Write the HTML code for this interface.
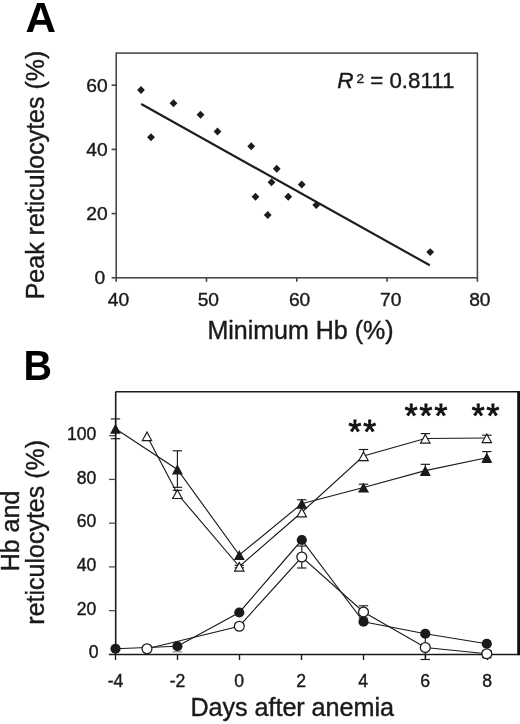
<!DOCTYPE html>
<html><head><meta charset="utf-8"><title>Figure</title>
<style>
html,body{margin:0;padding:0;background:#fff;}
body{width:520px;height:724px;overflow:hidden;}
svg{display:block;will-change:transform;filter:grayscale(1);}
text{font-family:"Liberation Sans",sans-serif;fill:#1a1a1a;stroke:#1a1a1a;stroke-width:0.4px;}
.tk{font-size:19.2px;}
.tkb{font-size:17.6px;}
.al{font-size:25px;}
.al2{font-size:25.2px;}
.pl{font-size:42.2px;font-weight:bold;fill:#000;stroke:none;}
.r2{font-size:22.6px;}
.st{font-size:33px;fill:#111;stroke:#111;stroke-width:0.9px;letter-spacing:1.95px;}
</style></head>
<body>
<svg width="520" height="724" viewBox="0 0 520 724">
<rect x="0" y="0" width="520" height="724" fill="#fff"/>
<rect x="116.2" y="53.1" width="361.20" height="224.70" fill="none" stroke="#454545" stroke-width="1.55"/>
<line x1="111.60" y1="277.80" x2="116.20" y2="277.80" stroke="#454545" stroke-width="1.6"/>
<text x="105.2" y="284.40" text-anchor="end" class="tk">0</text>
<line x1="111.60" y1="213.60" x2="116.20" y2="213.60" stroke="#454545" stroke-width="1.6"/>
<text x="107.6" y="220.20" text-anchor="end" class="tk">20</text>
<line x1="111.60" y1="149.40" x2="116.20" y2="149.40" stroke="#454545" stroke-width="1.6"/>
<text x="107.6" y="156.00" text-anchor="end" class="tk">40</text>
<line x1="111.60" y1="85.20" x2="116.20" y2="85.20" stroke="#454545" stroke-width="1.6"/>
<text x="107.6" y="91.80" text-anchor="end" class="tk">60</text>
<line x1="116.20" y1="277.80" x2="116.20" y2="281.80" stroke="#454545" stroke-width="1.6"/>
<text x="118.40" y="305.6" text-anchor="middle" class="tk">40</text>
<line x1="206.50" y1="277.80" x2="206.50" y2="281.80" stroke="#454545" stroke-width="1.6"/>
<text x="208.30" y="305.6" text-anchor="middle" class="tk">50</text>
<line x1="296.80" y1="277.80" x2="296.80" y2="281.80" stroke="#454545" stroke-width="1.6"/>
<text x="299.60" y="305.6" text-anchor="middle" class="tk">60</text>
<line x1="387.10" y1="277.80" x2="387.10" y2="281.80" stroke="#454545" stroke-width="1.6"/>
<text x="390.70" y="305.6" text-anchor="middle" class="tk">70</text>
<line x1="477.40" y1="277.80" x2="477.40" y2="281.80" stroke="#454545" stroke-width="1.6"/>
<text x="479.80" y="305.6" text-anchor="middle" class="tk">80</text>
<path d="M137.10 90.00L141.00 86.10L144.90 90.00L141.00 93.90Z" fill="#1c1c1c"/>
<path d="M169.60 103.25L173.50 99.35L177.40 103.25L173.50 107.15Z" fill="#1c1c1c"/>
<path d="M196.60 114.75L200.50 110.85L204.40 114.75L200.50 118.65Z" fill="#1c1c1c"/>
<path d="M213.60 131.50L217.50 127.60L221.40 131.50L217.50 135.40Z" fill="#1c1c1c"/>
<path d="M147.10 137.25L151.00 133.35L154.90 137.25L151.00 141.15Z" fill="#1c1c1c"/>
<path d="M247.35 146.25L251.25 142.35L255.15 146.25L251.25 150.15Z" fill="#1c1c1c"/>
<path d="M272.85 168.75L276.75 164.85L280.65 168.75L276.75 172.65Z" fill="#1c1c1c"/>
<path d="M267.60 182.25L271.50 178.35L275.40 182.25L271.50 186.15Z" fill="#1c1c1c"/>
<path d="M297.85 184.50L301.75 180.60L305.65 184.50L301.75 188.40Z" fill="#1c1c1c"/>
<path d="M251.60 196.75L255.50 192.85L259.40 196.75L255.50 200.65Z" fill="#1c1c1c"/>
<path d="M284.35 196.75L288.25 192.85L292.15 196.75L288.25 200.65Z" fill="#1c1c1c"/>
<path d="M312.35 205.00L316.25 201.10L320.15 205.00L316.25 208.90Z" fill="#1c1c1c"/>
<path d="M263.85 215.00L267.75 211.10L271.65 215.00L267.75 218.90Z" fill="#1c1c1c"/>
<path d="M426.30 252.10L430.20 248.20L434.10 252.10L430.20 256.00Z" fill="#1c1c1c"/>
<line x1="141.25" y1="104.0" x2="429.8" y2="265.3" stroke="#1c1c1c" stroke-width="2.15"/>
<text x="25.4" y="31.55" class="pl">A</text>
<text transform="translate(44.1,175) rotate(-90)" text-anchor="middle" class="al">Peak reticulocytes (%)</text>
<text x="300.5" y="338.5" text-anchor="middle" class="al">Minimum Hb (%)</text>
<text x="337.2" y="88.3" class="r2" font-style="italic">R</text>
<text x="356.6" y="82.6" class="r2" style="font-size:13.6px">2</text>
<text x="370.2" y="88.4" class="r2" style="font-size:22.3px">= 0.8111</text>
<line x1="115.7" y1="391.8" x2="115.7" y2="654.4" stroke="#1a1a1a" stroke-width="1.6"/>
<line x1="115.5" y1="391.8" x2="520" y2="391.8" stroke="#1a1a1a" stroke-width="1.5"/>
<line x1="108.8" y1="654.4" x2="520" y2="654.4" stroke="#1a1a1a" stroke-width="1.5"/>
<rect x="517.2" y="391.1" width="3" height="264.00" fill="#111"/>
<text x="98.6" y="658.00" text-anchor="end" class="tkb">0</text>
<line x1="109" y1="610.66" x2="115.5" y2="610.66" stroke="#4a4a4a" stroke-width="1.25"/>
<text x="96.4" y="614.76" text-anchor="end" class="tkb">20</text>
<line x1="109" y1="566.92" x2="115.5" y2="566.92" stroke="#4a4a4a" stroke-width="1.25"/>
<text x="96.4" y="571.02" text-anchor="end" class="tkb">40</text>
<line x1="109" y1="523.18" x2="115.5" y2="523.18" stroke="#4a4a4a" stroke-width="1.25"/>
<text x="96.4" y="527.28" text-anchor="end" class="tkb">60</text>
<line x1="109" y1="479.44" x2="115.5" y2="479.44" stroke="#4a4a4a" stroke-width="1.25"/>
<text x="96.4" y="483.54" text-anchor="end" class="tkb">80</text>
<line x1="109" y1="435.70" x2="115.5" y2="435.70" stroke="#4a4a4a" stroke-width="1.25"/>
<text x="96.4" y="439.80" text-anchor="end" class="tkb">100</text>
<line x1="115.50" y1="654.4" x2="115.50" y2="660.0" stroke="#1a1a1a" stroke-width="1.4"/>
<text x="115.50" y="687.4" text-anchor="middle" class="tkb">-4</text>
<line x1="177.50" y1="654.4" x2="177.50" y2="660.0" stroke="#1a1a1a" stroke-width="1.4"/>
<text x="177.50" y="687.4" text-anchor="middle" class="tkb">-2</text>
<line x1="239.50" y1="654.4" x2="239.50" y2="660.0" stroke="#1a1a1a" stroke-width="1.4"/>
<text x="239.20" y="687.4" text-anchor="middle" class="tkb">0</text>
<line x1="301.50" y1="654.4" x2="301.50" y2="660.0" stroke="#1a1a1a" stroke-width="1.4"/>
<text x="301.20" y="687.4" text-anchor="middle" class="tkb">2</text>
<line x1="363.50" y1="654.4" x2="363.50" y2="660.0" stroke="#1a1a1a" stroke-width="1.4"/>
<text x="363.20" y="687.4" text-anchor="middle" class="tkb">4</text>
<line x1="425.50" y1="654.4" x2="425.50" y2="660.0" stroke="#1a1a1a" stroke-width="1.4"/>
<text x="425.20" y="687.4" text-anchor="middle" class="tkb">6</text>
<line x1="487.50" y1="654.4" x2="487.50" y2="660.0" stroke="#1a1a1a" stroke-width="1.4"/>
<text x="487.20" y="687.4" text-anchor="middle" class="tkb">8</text>
<polyline fill="none" stroke="#1a1a1a" stroke-width="1.15" points="115.50,428.75 177.40,469.40 239.30,555.00 301.80,503.70 363.50,487.50 425.30,470.60 486.80,457.70"/>
<polyline fill="none" stroke="#1a1a1a" stroke-width="1.15" points="147.00,436.00 177.40,493.80 239.30,566.50 301.80,512.20 363.50,456.00 425.30,438.50 486.80,438.00"/>
<polyline fill="none" stroke="#1a1a1a" stroke-width="1.15" points="115.50,648.75 177.40,646.25 239.30,612.50 301.80,540.00 363.50,621.75 425.30,633.75 486.80,643.75"/>
<polyline fill="none" stroke="#1a1a1a" stroke-width="1.15" points="147.00,648.75 239.30,626.25 301.80,557.00 363.50,612.00 425.30,647.50 486.80,653.75"/>
<line x1="115.50" y1="418.90" x2="115.50" y2="438.70" stroke="#1a1a1a" stroke-width="1.15"/>
<line x1="110.80" y1="418.90" x2="120.20" y2="418.90" stroke="#1a1a1a" stroke-width="1.15"/>
<line x1="110.80" y1="438.70" x2="120.20" y2="438.70" stroke="#1a1a1a" stroke-width="1.15"/>
<line x1="177.40" y1="450.80" x2="177.40" y2="487.30" stroke="#1a1a1a" stroke-width="1.15"/>
<line x1="172.70" y1="450.80" x2="182.10" y2="450.80" stroke="#1a1a1a" stroke-width="1.15"/>
<line x1="172.70" y1="487.30" x2="182.10" y2="487.30" stroke="#1a1a1a" stroke-width="1.15"/>
<line x1="301.80" y1="499.80" x2="301.80" y2="507.60" stroke="#1a1a1a" stroke-width="1.15"/>
<line x1="297.10" y1="499.80" x2="306.50" y2="499.80" stroke="#1a1a1a" stroke-width="1.15"/>
<line x1="297.10" y1="507.60" x2="306.50" y2="507.60" stroke="#1a1a1a" stroke-width="1.15"/>
<line x1="363.50" y1="484.20" x2="363.50" y2="491.40" stroke="#1a1a1a" stroke-width="1.15"/>
<line x1="358.80" y1="484.20" x2="368.20" y2="484.20" stroke="#1a1a1a" stroke-width="1.15"/>
<line x1="358.80" y1="491.40" x2="368.20" y2="491.40" stroke="#1a1a1a" stroke-width="1.15"/>
<line x1="425.30" y1="464.30" x2="425.30" y2="475.40" stroke="#1a1a1a" stroke-width="1.15"/>
<line x1="420.60" y1="464.30" x2="430.00" y2="464.30" stroke="#1a1a1a" stroke-width="1.15"/>
<line x1="420.60" y1="475.40" x2="430.00" y2="475.40" stroke="#1a1a1a" stroke-width="1.15"/>
<line x1="486.80" y1="451.60" x2="486.80" y2="462.40" stroke="#1a1a1a" stroke-width="1.15"/>
<line x1="482.10" y1="451.60" x2="491.50" y2="451.60" stroke="#1a1a1a" stroke-width="1.15"/>
<line x1="482.10" y1="462.40" x2="491.50" y2="462.40" stroke="#1a1a1a" stroke-width="1.15"/>
<line x1="177.40" y1="490.30" x2="177.40" y2="497.60" stroke="#1a1a1a" stroke-width="1.15"/>
<line x1="172.70" y1="490.30" x2="182.10" y2="490.30" stroke="#1a1a1a" stroke-width="1.15"/>
<line x1="172.70" y1="497.60" x2="182.10" y2="497.60" stroke="#1a1a1a" stroke-width="1.15"/>
<line x1="239.30" y1="565.30" x2="239.30" y2="567.80" stroke="#1a1a1a" stroke-width="1.15"/>
<line x1="234.60" y1="565.30" x2="244.00" y2="565.30" stroke="#1a1a1a" stroke-width="1.15"/>
<line x1="234.60" y1="567.80" x2="244.00" y2="567.80" stroke="#1a1a1a" stroke-width="1.15"/>
<line x1="363.50" y1="449.50" x2="363.50" y2="460.50" stroke="#1a1a1a" stroke-width="1.15"/>
<line x1="358.80" y1="449.50" x2="368.20" y2="449.50" stroke="#1a1a1a" stroke-width="1.15"/>
<line x1="358.80" y1="460.50" x2="368.20" y2="460.50" stroke="#1a1a1a" stroke-width="1.15"/>
<line x1="425.30" y1="433.60" x2="425.30" y2="442.50" stroke="#1a1a1a" stroke-width="1.15"/>
<line x1="420.60" y1="433.60" x2="430.00" y2="433.60" stroke="#1a1a1a" stroke-width="1.15"/>
<line x1="420.60" y1="442.50" x2="430.00" y2="442.50" stroke="#1a1a1a" stroke-width="1.15"/>
<line x1="486.80" y1="435.20" x2="486.80" y2="442.50" stroke="#1a1a1a" stroke-width="1.15"/>
<line x1="482.10" y1="435.20" x2="491.50" y2="435.20" stroke="#1a1a1a" stroke-width="1.15"/>
<line x1="482.10" y1="442.50" x2="491.50" y2="442.50" stroke="#1a1a1a" stroke-width="1.15"/>
<line x1="301.80" y1="546.00" x2="301.80" y2="568.00" stroke="#1a1a1a" stroke-width="1.15"/>
<line x1="297.10" y1="546.00" x2="306.50" y2="546.00" stroke="#1a1a1a" stroke-width="1.15"/>
<line x1="297.10" y1="568.00" x2="306.50" y2="568.00" stroke="#1a1a1a" stroke-width="1.15"/>
<line x1="363.50" y1="605.80" x2="363.50" y2="618.20" stroke="#1a1a1a" stroke-width="1.15"/>
<line x1="358.80" y1="605.80" x2="368.20" y2="605.80" stroke="#1a1a1a" stroke-width="1.15"/>
<line x1="358.80" y1="618.20" x2="368.20" y2="618.20" stroke="#1a1a1a" stroke-width="1.15"/>
<line x1="425.30" y1="635.50" x2="425.30" y2="659.50" stroke="#1a1a1a" stroke-width="1.15"/>
<line x1="420.60" y1="635.50" x2="430.00" y2="635.50" stroke="#1a1a1a" stroke-width="1.15"/>
<line x1="420.60" y1="659.50" x2="430.00" y2="659.50" stroke="#1a1a1a" stroke-width="1.15"/>
<line x1="486.80" y1="650.60" x2="486.80" y2="657.70" stroke="#1a1a1a" stroke-width="1.15"/>
<line x1="482.10" y1="650.60" x2="491.50" y2="650.60" stroke="#1a1a1a" stroke-width="1.15"/>
<line x1="482.10" y1="657.70" x2="491.50" y2="657.70" stroke="#1a1a1a" stroke-width="1.15"/>
<line x1="172.70" y1="651.80" x2="182.10" y2="651.80" stroke="#8a8a8a" stroke-width="1.2"/>
<path d="M147.00 430.75L152.65 441.25L141.35 441.25Z" fill="#1a1a1a"/>
<path d="M147.00 433.18L150.73 440.10L143.27 440.10Z" fill="#fff"/>
<path d="M177.40 488.55L183.05 499.05L171.75 499.05Z" fill="#1a1a1a"/>
<path d="M177.40 490.98L181.13 497.90L173.67 497.90Z" fill="#fff"/>
<path d="M239.30 561.25L244.95 571.75L233.65 571.75Z" fill="#1a1a1a"/>
<path d="M239.30 563.68L243.03 570.60L235.57 570.60Z" fill="#fff"/>
<path d="M301.80 506.95L307.45 517.45L296.15 517.45Z" fill="#1a1a1a"/>
<path d="M301.80 509.38L305.53 516.30L298.07 516.30Z" fill="#fff"/>
<path d="M363.50 450.75L369.15 461.25L357.85 461.25Z" fill="#1a1a1a"/>
<path d="M363.50 453.18L367.23 460.10L359.77 460.10Z" fill="#fff"/>
<path d="M425.30 433.25L430.95 443.75L419.65 443.75Z" fill="#1a1a1a"/>
<path d="M425.30 435.68L429.03 442.60L421.57 442.60Z" fill="#fff"/>
<path d="M486.80 432.75L492.45 443.25L481.15 443.25Z" fill="#1a1a1a"/>
<path d="M486.80 435.18L490.53 442.10L483.07 442.10Z" fill="#fff"/>
<path d="M115.50 423.65L120.95 433.85L110.05 433.85Z" fill="#1a1a1a"/>
<path d="M177.40 464.30L182.85 474.50L171.95 474.50Z" fill="#1a1a1a"/>
<path d="M239.30 549.90L244.75 560.10L233.85 560.10Z" fill="#1a1a1a"/>
<path d="M301.80 498.60L307.25 508.80L296.35 508.80Z" fill="#1a1a1a"/>
<path d="M363.50 482.40L368.95 492.60L358.05 492.60Z" fill="#1a1a1a"/>
<path d="M425.30 465.50L430.75 475.70L419.85 475.70Z" fill="#1a1a1a"/>
<path d="M486.80 452.60L492.25 462.80L481.35 462.80Z" fill="#1a1a1a"/>
<circle cx="147.00" cy="648.75" r="4.95" fill="#fff" stroke="#1a1a1a" stroke-width="1.25"/>
<circle cx="239.30" cy="626.25" r="4.95" fill="#fff" stroke="#1a1a1a" stroke-width="1.25"/>
<circle cx="301.80" cy="557.00" r="4.95" fill="#fff" stroke="#1a1a1a" stroke-width="1.25"/>
<circle cx="363.50" cy="612.00" r="4.95" fill="#fff" stroke="#1a1a1a" stroke-width="1.25"/>
<circle cx="425.30" cy="647.50" r="4.95" fill="#fff" stroke="#1a1a1a" stroke-width="1.25"/>
<circle cx="486.80" cy="653.75" r="4.95" fill="#fff" stroke="#1a1a1a" stroke-width="1.25"/>
<circle cx="115.50" cy="648.75" r="5.1" fill="#1a1a1a"/>
<circle cx="177.40" cy="646.25" r="5.1" fill="#1a1a1a"/>
<circle cx="239.30" cy="612.50" r="5.1" fill="#1a1a1a"/>
<circle cx="301.80" cy="540.00" r="5.1" fill="#1a1a1a"/>
<circle cx="363.50" cy="621.75" r="5.1" fill="#1a1a1a"/>
<circle cx="425.30" cy="633.75" r="5.1" fill="#1a1a1a"/>
<circle cx="486.80" cy="643.75" r="5.1" fill="#1a1a1a"/>
<text x="363.2" y="443.1" text-anchor="middle" class="st">**</text>
<text x="427.0" y="427.1" text-anchor="middle" class="st">***</text>
<text x="486.6" y="427.1" text-anchor="middle" class="st">**</text>
<text transform="translate(23.6,379.9) scale(0.935,1)" class="pl">B</text>
<text transform="translate(19.4,531) rotate(-90)" text-anchor="middle" class="al">Hb and</text>
<text transform="translate(44,532.3) rotate(-90)" text-anchor="middle" class="al">reticulocytes (%)</text>
<text x="292.2" y="715.5" text-anchor="middle" class="al2" textLength="203.6" lengthAdjust="spacing">Days after anemia</text>
</svg>
</body></html>
